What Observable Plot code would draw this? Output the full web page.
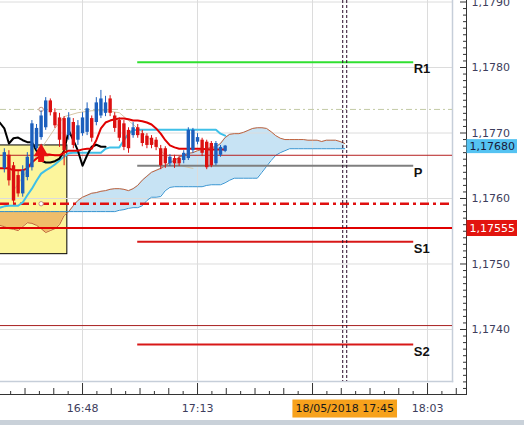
<!DOCTYPE html>
<html><head><meta charset="utf-8">
<script src="https://cdn.jsdelivr.net/npm/d3@7"></script>
<script src="https://cdn.jsdelivr.net/npm/@observablehq/plot@0.6"></script>
<style>
html,body{margin:0;padding:0;background:#fff;}
#chart{width:524px;height:420px;overflow:hidden;}
#band{width:524px;height:5px;background:#c9d1d9;}
</style></head><body>
<div id="chart"></div><div id="band"></div>
<script>
// time = minutes after 16:30 ; prices EUR/USD
const candleStart = 1;
const open  = [1.17646,1.17666,1.17650,1.17635,1.17607,1.17632,1.17647,1.17676,1.17693,1.17708,1.17749,1.17731,1.17723,1.17722,1.17696,1.17716,1.17689,1.17699,1.17701,1.17722,1.17716,1.17726,1.17730,1.17752,1.17726,1.17719,1.17714,1.17704,1.17696,1.17708,1.17699,1.17695,1.17692,1.17689,1.17676,1.17676,1.17653,1.17661,1.17661,1.17658,1.17661,1.17673,1.17686,1.17689,1.17686,1.17684,1.17653,1.17666,1.17672];
const high  = [1.17676,1.17673,1.17655,1.17642,1.17650,1.17670,1.17719,1.17713,1.17734,1.17754,1.17752,1.17737,1.17730,1.17725,1.17731,1.17722,1.17719,1.17731,1.17746,1.17726,1.17754,1.17765,1.17756,1.17757,1.17731,1.17723,1.17719,1.17708,1.17716,1.17713,1.17704,1.17699,1.17696,1.17693,1.17681,1.17679,1.17667,1.17666,1.17664,1.17673,1.17708,1.17707,1.17699,1.17692,1.17689,1.17687,1.17687,1.17681,1.17681];
const low   = [1.17639,1.17619,1.17592,1.17602,1.17602,1.17627,1.17642,1.17673,1.17689,1.17704,1.17726,1.17707,1.17678,1.17650,1.17689,1.17676,1.17681,1.17695,1.17696,1.17686,1.17711,1.17722,1.17725,1.17725,1.17701,1.17687,1.17673,1.17669,1.17692,1.17692,1.17679,1.17676,1.17676,1.17673,1.17644,1.17646,1.17649,1.17646,1.17649,1.17653,1.17658,1.17669,1.17682,1.17664,1.17644,1.17647,1.17650,1.17663,1.17670];
const close = [1.17670,1.17627,1.17596,1.17607,1.17642,1.17663,1.17714,1.17707,1.17726,1.17749,1.17731,1.17711,1.17689,1.17673,1.17723,1.17681,1.17711,1.17723,1.17737,1.17692,1.17746,1.17752,1.17746,1.17730,1.17707,1.17692,1.17678,1.17676,1.17708,1.17696,1.17684,1.17681,1.17681,1.17678,1.17650,1.17653,1.17663,1.17653,1.17653,1.17669,1.17704,1.17704,1.17693,1.17669,1.17647,1.17650,1.17684,1.17678,1.17680];

// Ichimoku lines, starting at minute 0
const tenkan = [1.17646,1.17646,1.17646,1.17643,1.17643,1.17643,1.17646,1.17655,1.17661,1.17666,1.17667,1.17667,1.17666,1.17666,1.17670,1.17673,1.17673,1.17673,1.17675,1.17676,1.17676,1.17689,1.17707,1.17716,1.17719,1.17721,1.17722,1.17722,1.17721,1.17719,1.17719,1.17718,1.17716,1.17713,1.17707,1.17699,1.17689,1.17681,1.17678,1.17676,1.17676,1.17676,1.17676,1.17676,1.17676,1.17675,1.17675,1.17675,1.17675,1.17675];
const kijun = [1.17586,1.17588,1.17589,1.17589,1.17589,1.17594,1.17605,1.17615,1.17627,1.17638,1.17643,1.17647,1.17652,1.17658,1.17664,1.17669,1.17670,1.17670,1.17670,1.17670,1.17670,1.17670,1.17670,1.17676,1.17678,1.17678,1.17678,1.17689,1.17699,1.17704,1.17705,1.17705,1.17705,1.17705,1.17705,1.17705,1.17705,1.17705,1.17705,1.17705,1.17705,1.17705,1.17705,1.17705,1.17705,1.17705,1.17705,1.17705,1.17699,1.17696];
const chikou = [1.17716,1.17707,1.17684,1.17692,1.17693,1.17689,1.17686,1.17686,1.17673,1.17658,1.17655,1.17655,1.17657,1.17661,1.17673,1.17704,1.17689,1.17673,1.17650,1.17666,1.17679,1.17682,1.17679,1.17679];
const spanA = [1.17559,1.17557,1.17554,1.17553,1.17551,1.17557,1.17563,1.17562,1.17559,1.17554,1.17548,1.17551,1.17554,1.17560,1.17574,1.17580,1.17589,1.17597,1.17602,1.17605,1.17608,1.17609,1.17611,1.17612,1.17614,1.17615,1.17615,1.17614,1.17612,1.17615,1.17620,1.17628,1.17634,1.17640,1.17643,1.17646,1.17650,1.17655,1.17658,1.17663,1.17666,1.17669,1.17670,1.17673,1.17675,1.17676,1.17678,1.17679,1.17684,1.17693,1.17698,1.17699,1.17699,1.17701,1.17704,1.17707,1.17708,1.17708,1.17707,1.17702,1.17696,1.17692,1.17690,1.17690,1.17690,1.17690,1.17690,1.17689,1.17689,1.17689,1.17687,1.17689,1.17689,1.17689,1.17687,1.17684];
const spanB = [1.17580,1.17580,1.17580,1.17580,1.17580,1.17580,1.17580,1.17580,1.17580,1.17580,1.17580,1.17580,1.17580,1.17580,1.17580,1.17580,1.17580,1.17580,1.17580,1.17580,1.17580,1.17580,1.17580,1.17580,1.17580,1.17580,1.17582,1.17583,1.17585,1.17586,1.17586,1.17589,1.17597,1.17602,1.17602,1.17603,1.17612,1.17617,1.17618,1.17618,1.17618,1.17618,1.17618,1.17618,1.17618,1.17620,1.17621,1.17621,1.17621,1.17624,1.17628,1.17631,1.17631,1.17631,1.17631,1.17631,1.17631,1.17640,1.17649,1.17658,1.17666,1.17670,1.17673,1.17676,1.17676,1.17676,1.17676,1.17676,1.17676,1.17676,1.17676,1.17676,1.17676,1.17676,1.17676,1.17676];
const cloudTurn = 15;
const maTimes  = [3,6,9,12,14,17,20,23,26,28,30,32,34,36,38,40,42];
const maValues = [1.17612,1.17643,1.17676,1.17707,1.17725,1.17731,1.17734,1.17734,1.17731,1.17719,1.17707,1.17695,1.17681,1.17666,1.17655,1.17649,1.17646];

// levels
const levelValues = [1.17736,1.17666,1.17592,1.17555,1.17406];
const levelColors = ["#c3caa6","#b52020","#e01010","#e00000","#a82020"];
const levelWidths = [1,1,2.5,2,1];
const levelDash   = ["6,3,2,3",null,"9,4,3,4",null,null];
const anchorTime = 9;
const pivotNames  = ["R1","P","S1","S2"];
const pivotValues = [1.17808,1.17650,1.17534,1.17377];
const pivotColors = ["#30e030","#7f7f7f","#d81818","#d81818"];
const pivotStart = 30, pivotEnd = 90;
const boxStart = 0, boxEnd = 14.7, boxTop = 1.17681, boxBottom = 1.17515;
const arrowTime = 9, arrowTip = 1.17677, arrowBase = 1.17655;
const markerTime = 75;
const markerLabel = "18/05/2018 17:45";
const lastPrice = 1.17680, levelPrice = 1.17555;

const xMajor = [18,43,68,93];
const xLabelTicks = [18,43,93];
const xTickLabels = ["16:48","17:13","18:03"];
const yMajor = [1.1740,1.1750,1.1760,1.1770,1.1780,1.1790];

const loc = d3.formatLocale({decimal: ",", thousands: ".", grouping: [3], currency: ["", ""]});
const f4 = loc.format(".4f"), f5 = loc.format(".5f");
const FONT = "DejaVu Sans";

const candles = open.map((o, k) => ({t: candleStart + k, open: o, high: high[k], low: low[k], close: close[k]}));
const bull = candles.filter(d => d.close >= d.open), bear = candles.filter(d => d.close < d.open);
const cloud = spanA.map((a, k) => ({t: k, a, b: spanB[k]}));
const line = (arr) => arr.map((v, k) => ({t: k, v}));
const ma = maTimes.map((t, k) => ({t, v: maValues[k]}));
const levels = levelValues.map((v, k) => ({v, k}));
const pivots = pivotValues.map((v, k) => ({v, k}));

const minorX = d3.range(-6, 27).map(k => ({t: 18 + k * 25 / 8, k})).filter(d => d.k % 8 !== 0 && d.t > 0.5 && d.t < 101);
const minorY = d3.range(11731, 11791).filter(k => k % 10 !== 0).map(k => k / 10000);

const BULLC = "#1c5fbd", BEARC = "#dc1010";

const plot = Plot.plot({
  width: 524, height: 420,
  marginLeft: 0, marginRight: 72, marginTop: 0, marginBottom: 39,
  x: {type: "linear", domain: [0.17, 98.43], axis: null},
  y: {domain: [1.173206, 1.179023], axis: null},
  style: {fontFamily: FONT, fontSize: "11px", background: "#fff"},
  marks: [
    Plot.rect([0], {x1: () => boxStart, x2: () => boxEnd, y1: () => boxBottom, y2: () => boxTop, fill: "#fcf59c"}),
    Plot.areaY(cloud.filter(d => d.t <= cloudTurn), {x: "t", y1: "a", y2: "b", fill: "#efbd6a"}),
    Plot.areaY(cloud.filter(d => d.t >= cloudTurn), {x: "t", y1: "a", y2: "b", fill: "#c7e3f4"}),
    Plot.rect([0], {x1: () => boxStart, x2: () => boxEnd, y1: () => boxBottom, y2: () => boxTop, fill: "none", stroke: "#000"}),
    Plot.ruleX(xMajor, {stroke: "#dcdcdc"}),
    Plot.ruleY(yMajor, {stroke: "#dcdcdc"}),
    Plot.frame({anchor: "right", stroke: "#c6ced9", strokeWidth: 1.5}),
    Plot.frame({anchor: "bottom", stroke: "#c6ced9", strokeWidth: 1.5}),
    Plot.line(cloud, {x: "t", y: "a", stroke: "#c0623c", strokeWidth: 1}),
    Plot.line(cloud, {x: "t", y: "b", stroke: "#3191d0", strokeWidth: 1}),
    ...levels.map(d => Plot.ruleY([d.v], {stroke: levelColors[d.k], strokeWidth: levelWidths[d.k], strokeDasharray: levelDash[d.k] || undefined})),
    Plot.dot([levelValues[0], levelValues[2]], {x: () => anchorTime, y: d => d, r: 2.2, stroke: "#c09080", fill: "#fff", strokeWidth: 1}),
    Plot.line(ma, {x: "t", y: "v", stroke: "#d6c6a6", strokeWidth: 1}),
    ...pivots.map(d => Plot.ruleY([d.v], {x1: pivotStart, x2: pivotEnd, stroke: pivotColors[d.k], strokeWidth: 2})),
    Plot.line(line(kijun), {x: "t", y: "v", stroke: "#3fc0e8", strokeWidth: 2}),
    Plot.line(line(chikou), {x: "t", y: "v", stroke: "#000", strokeWidth: 2}),
    Plot.line(line(tenkan), {x: "t", y: "v", stroke: "#e00000", strokeWidth: 2}),
    Plot.ruleX(bull, {x: "t", y1: "low", y2: "high", stroke: BULLC, strokeWidth: 1}),
    Plot.ruleX(bear, {x: "t", y1: "low", y2: "high", stroke: BEARC, strokeWidth: 1}),
    Plot.ruleX(bull, {x: "t", y1: "open", y2: "close", stroke: BULLC, strokeWidth: 3.4}),
    Plot.ruleX(bear, {x: "t", y1: "open", y2: "close", stroke: BEARC, strokeWidth: 3.4}),
    Plot.ruleX([0], {x: () => arrowTime, y1: () => arrowBase, y2: () => (arrowTip + arrowBase) / 2 + 0.00003, stroke: "#e81010", strokeWidth: 6}),
    Plot.dot([0], {x: () => arrowTime, y: () => arrowTip - 0.00006, symbol: "triangle", r: 5.5, fill: "#e81010"}),
    Plot.ruleX([markerTime], {stroke: "#2a0a2a", strokeDasharray: "3,2", dx: -2}),
    Plot.ruleX([markerTime], {stroke: "#2a0a2a", strokeDasharray: "3,2", dx: 2}),
    Plot.text(pivots, {x: pivotEnd, y: "v", text: d => pivotNames[d.k], textAnchor: "start", lineAnchor: "top", dy: 2, fontFamily: "Liberation Sans", fontWeight: "bold", fontSize: 13, fill: "#111"}),
    // y axis
    Plot.frame({anchor: "right", dx: 14, insetBottom: -13, stroke: "#333"}),
    Plot.ruleY(minorY, {insetLeft: 463, insetRight: -14, stroke: "#333"}),
    Plot.ruleY(yMajor, {insetLeft: 460, insetRight: -14, stroke: "#333"}),
    Plot.text(yMajor, {y: d => d, text: d => f4(d), frameAnchor: "right", dx: 19, textAnchor: "start", fill: "#3d3d5c", fontSize: 11}),
    // x axis
    Plot.frame({anchor: "bottom", dy: 13, insetRight: -14, stroke: "#333"}),
    Plot.ruleX(minorX, {x: "t", insetTop: 391, insetBottom: -13, stroke: "#333", filter: d => d.k % 2 !== 0}),
    Plot.ruleX(minorX, {x: "t", insetTop: 388, insetBottom: -13, stroke: "#333", filter: d => d.k % 2 === 0}),
    Plot.ruleX(xMajor, {insetTop: 383, insetBottom: -13, stroke: "#333"}),
    Plot.text(xLabelTicks, {x: d => d, text: (d, i) => xTickLabels[i], frameAnchor: "bottom", dy: 27, lineAnchor: "middle", fill: "#3d3d5c", fontSize: 11}),
    // tags
    Plot.text([lastPrice], {y: d => d, text: d => f5(d), frameAnchor: "right", dx: 17, textAnchor: "start", fill: "#1a1a3a", fontSize: 11, ariaDescription: "tag-last"}),
    Plot.text([levelPrice], {y: d => d, text: d => f5(d), frameAnchor: "right", dx: 17, textAnchor: "start", fill: "#fff", fontSize: 11, ariaDescription: "tag-level"}),
    Plot.text([markerTime], {x: d => d, text: () => markerLabel, frameAnchor: "bottom", dy: 27, lineAnchor: "middle", fill: "#1a1a1a", fontSize: 11, ariaDescription: "tag-date"})
  ]
});
document.getElementById("chart").appendChild(plot);

function addBg(label, fill, pl, pr, pt, pb) {
  plot.querySelectorAll(`g[aria-description="${label}"] text`).forEach(t => {
    const b = t.getBBox();
    const r = document.createElementNS("http://www.w3.org/2000/svg", "rect");
    r.setAttribute("x", b.x - pl); r.setAttribute("y", b.y - pt);
    r.setAttribute("width", b.width + pl + pr); r.setAttribute("height", b.height + pt + pb);
    r.setAttribute("fill", fill);
    if (t.getAttribute("transform")) r.setAttribute("transform", t.getAttribute("transform"));
    t.parentNode.insertBefore(r, t);
  });
}
addBg("tag-last", "#55c3f2", 3, 2, 0.5, 0.5);
addBg("tag-level", "#e2150f", 3, 2, 1.5, 1.5);
addBg("tag-date", "#f7a21c", 3, 3, 2.5, 2.5);
</script>
</body></html>
